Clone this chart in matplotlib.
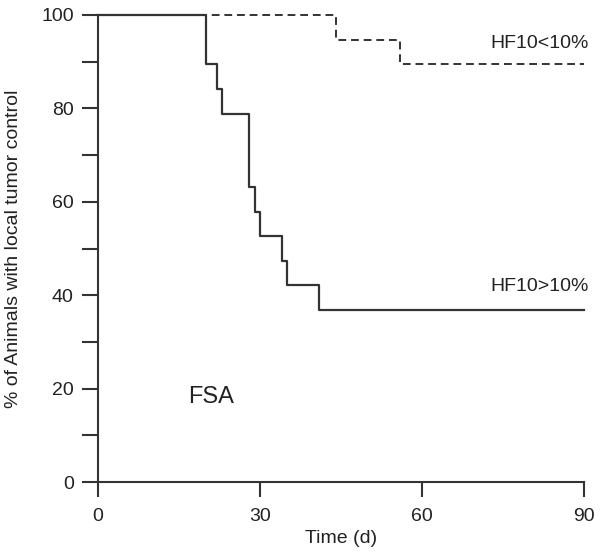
import matplotlib
matplotlib.use("Agg")
import matplotlib.pyplot as plt

# Kaplan-Meier style step data (time in days, % of animals with local tumor control)
t_high = [0, 20, 22, 23, 28, 29, 30, 34, 35, 41, 90]
s_high = [100, 89.5, 84.2, 78.9, 63.2, 57.9, 52.6, 47.4, 42.1, 36.8, 36.8]

t_low = [0, 44, 56, 90]
s_low = [100, 94.7, 89.5, 89.5]

x_ticks = [0, 30, 60, 90]
y_ticks = [0, 20, 40, 60, 80, 100]
y_minor = [10, 30, 50, 70, 90]

plt.rcParams['font.family'] = ['Liberation Sans', 'DejaVu Sans']

fig = plt.figure(figsize=(6.01, 5.55), dpi=100)
ax = fig.add_axes([0.163, 0.1315, 0.809, 0.8415])

lc = '#333333'
tc = '#222222'
ax.step(t_low, s_low, where='post', color=lc, lw=1.4, ls=(0, (4, 2.5)), clip_on=False)
ax.step(t_high, s_high, where='post', color=lc, lw=1.6, clip_on=False)

ax.set_xlim(0, 90)
ax.set_ylim(0, 100)
ax.set_xticks(x_ticks)
ax.set_yticks(y_ticks)
ax.set_yticks(y_minor, minor=True)

for s in ['top', 'right']:
    ax.spines[s].set_visible(False)
for s in ['left', 'bottom']:
    ax.spines[s].set_linewidth(1.5)
    ax.spines[s].set_color(lc)

ax.tick_params(axis='both', which='both', direction='out', width=1.5, color=lc,
               labelsize=14, labelcolor=tc)
ax.tick_params(axis='y', which='both', length=11.5, pad=6)
ax.tick_params(axis='x', which='major', length=11, pad=8)

ax.set_xlabel('Time (d)', fontsize=14, color=tc, labelpad=3)
ax.set_ylabel('% of Animals with local tumor control', fontsize=14, color=tc, labelpad=14)

ax.text(72.6, 93.8, 'HF10<10%', fontsize=14, color=tc, ha='left', va='center', clip_on=False)
ax.text(72.6, 41.8, 'HF10>10%', fontsize=14, color=tc, ha='left', va='center', clip_on=False)
ax.text(16.7, 18.3, 'FSA', fontsize=17, color=tc, ha='left', va='center')

fig.savefig('out.png', dpi=100)
